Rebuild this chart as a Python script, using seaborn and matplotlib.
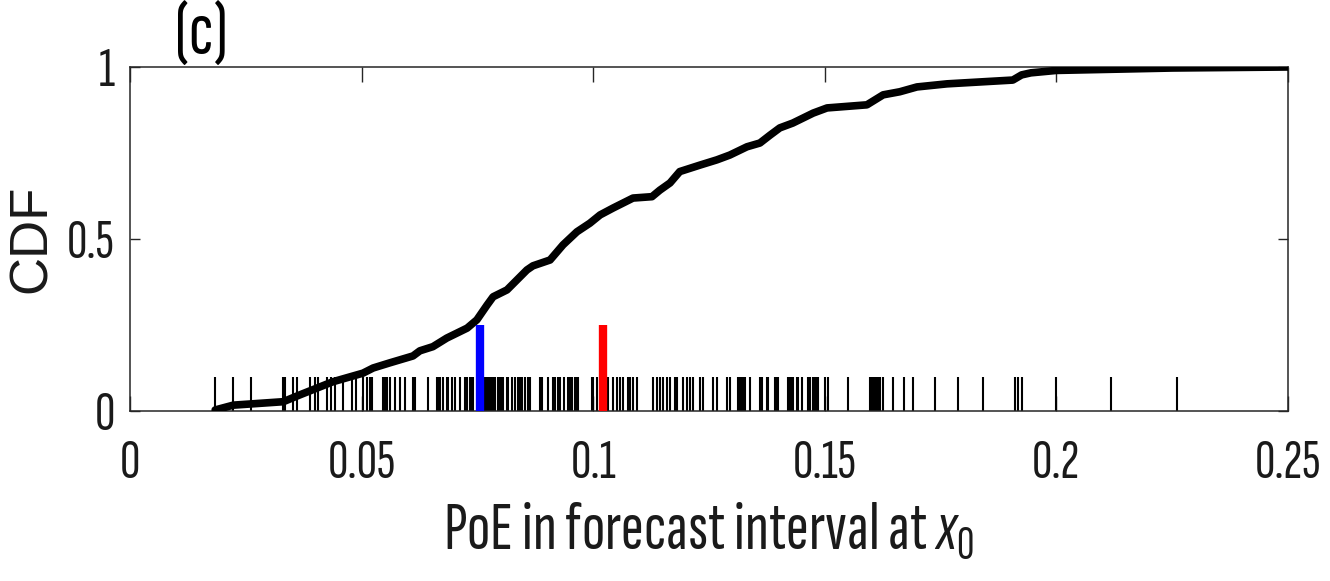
import matplotlib
matplotlib.use("Agg")
import matplotlib.pyplot as plt
from matplotlib import font_manager as fm
from matplotlib.textpath import TextPath
from matplotlib.font_manager import FontProperties
import seaborn as sns
import pandas as pd

# ---- data ----
cdf_x = [0.0184, 0.0223, 0.0331, 0.0367, 0.0438, 0.0503, 0.0525, 0.0561, 0.0611,
         0.0626, 0.0654, 0.0684, 0.0728, 0.0749, 0.0771, 0.0784, 0.0814, 0.0857,
         0.0870, 0.0907, 0.0935, 0.0965, 0.0993, 0.1015, 0.1043, 0.1086, 0.1127,
         0.1144, 0.1166, 0.1187, 0.1231, 0.1267, 0.1295, 0.1332, 0.1360, 0.1382,
         0.1403, 0.1431, 0.1475, 0.1505, 0.1591, 0.1626, 0.1662, 0.1699, 0.1764,
         0.1906, 0.1925, 0.1945, 0.2000, 0.2250, 0.2500]
cdf_y = [0.003, 0.017, 0.027, 0.047, 0.085, 0.110, 0.125, 0.140, 0.160,
         0.175, 0.187, 0.212, 0.241, 0.265, 0.308, 0.332, 0.352, 0.410,
         0.422, 0.439, 0.483, 0.521, 0.546, 0.570, 0.590, 0.619, 0.623,
         0.642, 0.663, 0.696, 0.715, 0.730, 0.744, 0.768, 0.779, 0.802,
         0.823, 0.837, 0.866, 0.881, 0.890, 0.919, 0.928, 0.942, 0.951,
         0.962, 0.977, 0.983, 0.990, 0.997, 1.000]

rug_values = [
    0.0184, 0.0223, 0.0261, 0.0330, 0.0335, 0.0351, 0.0360, 0.0389, 0.0399, 0.0407,
    0.0425, 0.0435, 0.0443, 0.0461, 0.0479, 0.0489, 0.0504, 0.0511, 0.0518, 0.0522,
    0.0547, 0.0551, 0.0554, 0.0561, 0.0572, 0.0583, 0.0594, 0.0612, 0.0615, 0.0644,
    0.0662, 0.0666, 0.0669, 0.0676, 0.0684, 0.0687, 0.0695, 0.0702, 0.0712, 0.0723,
    0.0727, 0.0734, 0.0738, 0.0741, 0.0751, 0.0758, 0.0766, 0.0770, 0.0774, 0.0777,
    0.0781, 0.0784, 0.0788, 0.0795, 0.0799, 0.0803, 0.0806, 0.0813, 0.0817, 0.0824,
    0.0831, 0.0838, 0.0842, 0.0846, 0.0853, 0.0860, 0.0864, 0.0885, 0.0889, 0.0903,
    0.0914, 0.0918, 0.0925, 0.0928, 0.0936, 0.0946, 0.0950, 0.0954, 0.0961, 0.0964,
    0.0968, 0.0997, 0.1000, 0.1008, 0.1018, 0.1033, 0.1043, 0.1051, 0.1058, 0.1065,
    0.1076, 0.1079, 0.1087, 0.1094, 0.1130, 0.1137, 0.1144, 0.1151, 0.1159, 0.1166,
    0.1177, 0.1180, 0.1195, 0.1202, 0.1209, 0.1216, 0.1231, 0.1238, 0.1259, 0.1267,
    0.1288, 0.1295, 0.1313, 0.1317, 0.1321, 0.1324, 0.1328, 0.1339, 0.1360, 0.1364,
    0.1375, 0.1378, 0.1393, 0.1396, 0.1400, 0.1421, 0.1425, 0.1429, 0.1432, 0.1439,
    0.1443, 0.1450, 0.1464, 0.1468, 0.1475, 0.1479, 0.1483, 0.1486, 0.1501, 0.1508,
    0.1551, 0.1598, 0.1601, 0.1605, 0.1608, 0.1612, 0.1616, 0.1619, 0.1626, 0.1648,
    0.1670, 0.1691, 0.1738, 0.1788, 0.1842, 0.1911, 0.1918, 0.1925, 0.1999, 0.2117,
    0.2261]

blue_value = [0.0756]
red_value = [0.1021]

x_ticks = [0, 0.05, 0.1, 0.15, 0.2, 0.25]
x_ticklabels = ["0", "0.05", "0.1", "0.15", "0.2", "0.25"]
y_ticks = [0, 0.5, 1]
y_ticklabels = ["0", "0.5", "1"]

# ---- font choice: a narrow grotesque close to the squeezed Helvetica ----
sns.set_theme(style="white")
available = {f.name for f in fm.fontManager.ttflist}


def shape(fam):
    fp = FontProperties(family=fam)
    w = TextPath((0, 0), "0.05", size=1, prop=fp).get_extents()
    h = TextPath((0, 0), "0", size=1, prop=fp).get_extents()
    return w.width / h.height, h.height


prefs = ["Sofia Sans Extra Condensed", "Encode Sans Compressed", "Barlow Condensed",
         "Fira Sans Extra Condensed", "Sofia Sans Condensed", "Encode Sans Condensed",
         "Archivo Narrow", "Roboto Condensed", "Pragati Narrow"]
narrow, best = None, None
for cand in prefs:
    if cand not in available:
        continue
    try:
        r, _ = shape(cand)
    except Exception:
        continue
    if 1.6 <= r <= 2.1:
        narrow = cand
        break
    if best is None or abs(r - 1.81) < abs(best[1] - 1.81):
        best = (cand, r)
if narrow is None:
    narrow = best[0] if best else "DejaVu Sans"
ratio, digit_h = shape(narrow)
# point size giving a digit height of ~37.6 px at 100 dpi
tick_fs = 37.6 / digit_h * 0.72
label_fs = tick_fs * 1.22
wide = "Liberation Sans" if "Liberation Sans" in available else "DejaVu Sans"

plt.rcParams["font.family"] = [narrow, "DejaVu Sans"]
plt.rcParams["mathtext.fontset"] = "custom"
plt.rcParams["mathtext.rm"] = narrow
plt.rcParams["mathtext.it"] = narrow + ":italic"
plt.rcParams["mathtext.default"] = "regular"

fig = plt.figure(figsize=(13.3, 5.81), dpi=100)
ax = fig.add_axes([0.0977, 0.2926, 0.8707, 0.5921])

df_cdf = pd.DataFrame({"x": cdf_x, "y": cdf_y})
sns.lineplot(data=df_cdf, x="x", y="y", ax=ax, color="black", linewidth=5.5,
             sort=False, estimator=None, zorder=3)

sns.rugplot(x=rug_values, ax=ax, height=0.1, color="black", linewidth=1.5,
            expand_margins=False, zorder=2)
sns.rugplot(x=blue_value, ax=ax, height=0.25, color="#0000ff", linewidth=6,
            expand_margins=False, zorder=4)
sns.rugplot(x=red_value, ax=ax, height=0.25, color="#ff0000", linewidth=6,
            expand_margins=False, zorder=4)

ax.set_xlim(0, 0.25)
ax.set_ylim(0, 1)
ax.set_xticks(x_ticks)
ax.set_xticklabels(x_ticklabels)
ax.set_yticks(y_ticks)
ax.set_yticklabels(y_ticklabels)
ax.tick_params(axis="both", direction="in", width=1, color="#262626",
               labelsize=tick_fs, labelcolor="#1a1a1a", top=True, right=True,
               bottom=True, left=True)
ax.tick_params(axis="x", length=11, pad=20)
ax.tick_params(axis="y", length=7.5, pad=11)
for s in ax.spines.values():
    s.set_color("#262626")
    s.set_linewidth(1.1)
    s.set_visible(True)

ax.set_xlabel("PoE in forecast interval at $\\mathit{x}_{0}$", fontsize=label_fs,
              color="#1a1a1a", va="top")
ax.xaxis.set_label_coords(0.5, -0.262)
ax.set_ylabel("CDF", fontsize=38, color="#1a1a1a", family=[wide, "DejaVu Sans"])
ax.yaxis.set_label_coords(-0.063, 0.5)
ax.text(0.0617, 0.997, "(c)", transform=ax.transAxes, fontsize=tick_fs * 1.35,
        color="black", ha="center", va="bottom")

fig.savefig("out.png", dpi=100)
